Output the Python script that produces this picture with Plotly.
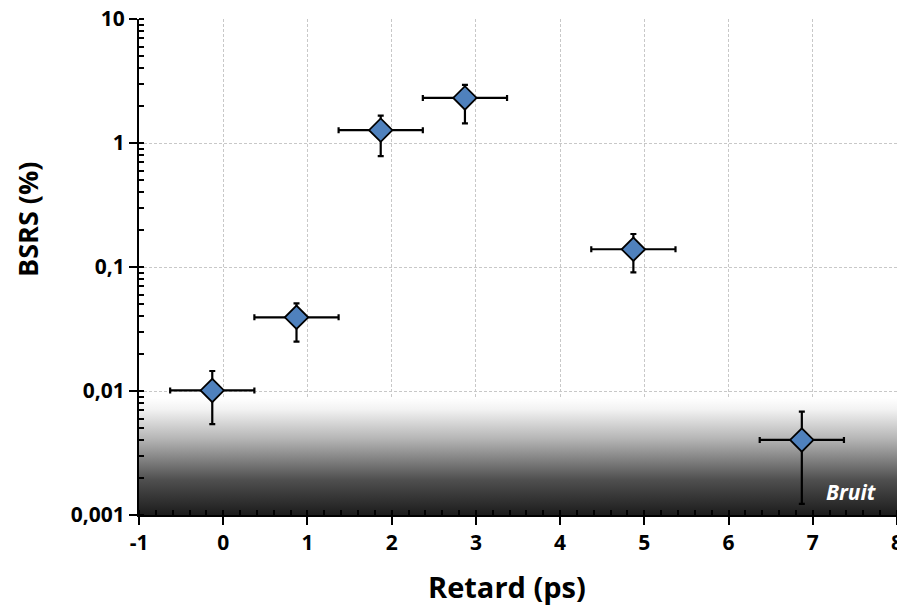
import plotly.graph_objects as go

# Data
delay_ps = [-0.13, 0.87, 1.87, 2.87, 4.87, 6.87]
delay_err = [0.5, 0.5, 0.5, 0.5, 0.5, 0.5]
bsrs = [0.0101, 0.0393, 1.27, 2.31, 0.139, 0.00403]
bsrs_err_plus = [0.0044, 0.0116, 0.39, 0.63, 0.0455, 0.0028]
bsrs_err_minus = [0.0047, 0.0143, 0.485, 0.87, 0.0485, 0.0028]

x_tickvals = [-1, 0, 1, 2, 3, 4, 5, 6, 7, 8]
x_ticktext = ["-1", "0", "1", "2", "3", "4", "5", "6", "7", "8"]
y_tickvals = [0.001, 0.01, 0.1, 1, 10]
y_ticktext = ["0,001", "0,01", "0,1", "1", "10"]

noise_level = 0.0088
x_range = [-1, 8]
y_floor = 0.001

FONT = "Open Sans"

fig = go.Figure()

# Noise band (gradient)
fig.add_trace(go.Scatter(
    x=[x_range[0], x_range[1], x_range[1], x_range[0], x_range[0]],
    y=[y_floor, y_floor, noise_level, noise_level, y_floor],
    mode="lines", line=dict(width=0), fill="toself",
    fillgradient=dict(type="vertical",
                      colorscale=[[0, "#1c1c1c"], [0.3, "#4f4f4f"], [0.65, "#b5b5b5"], [0.9, "#f2f2f2"], [1, "#ffffff"]]),
    hoverinfo="skip", showlegend=False,
))

fig.add_trace(go.Scatter(
    x=delay_ps, y=bsrs, mode="markers",
    marker=dict(symbol="diamond", size=18, color="#4f81bd", line=dict(color="black", width=1.8)),
    error_x=dict(type="data", array=delay_err, color="black", thickness=2.2, width=3),
    error_y=dict(type="data", array=bsrs_err_plus, arrayminus=bsrs_err_minus, symmetric=False,
                 color="black", thickness=2.2, width=3),
    showlegend=False,
))

fig.add_annotation(x=7.46, y=-2.815, xref="x", yref="y", text="<b><i>Bruit</i></b>",
                   showarrow=False, font=dict(family=FONT, size=21, color="white"))

# Axis titles
fig.add_annotation(x=-0.1464, y=0.595, xref="paper", yref="paper", text="<b>BSRS (%)</b>",
                   textangle=-90, showarrow=False, xanchor="center", yanchor="middle",
                   font=dict(family=FONT, size=27, color="black"))
fig.add_annotation(x=0.4855, y=-0.145, xref="paper", yref="paper", text="<b>Retard (ps)</b>",
                   showarrow=False, xanchor="center", yanchor="middle",
                   font=dict(family=FONT, size=29, color="black"))

# Page body has an 8px margin, so the figure is sized to fit the window
fig.update_layout(
    width=897, height=599,
    margin=dict(l=131, r=8, t=11, b=92),
    plot_bgcolor="white", paper_bgcolor="white",
    font=dict(family=FONT, color="black"),
    xaxis=dict(
        range=x_range, tickmode="array", tickvals=x_tickvals, ticktext=x_ticktext,
        automargin=False, ticklabeloverflow="allow",
        showline=True, linecolor="black", linewidth=2,
        ticks="outside", ticklen=8, tickwidth=2, tickcolor="black",
        minor=dict(dtick=0.2, tick0=0, ticks="inside", ticklen=5, tickwidth=1.5, tickcolor="black", showgrid=False),
        showgrid=True, gridcolor="#c8c8c8", griddash="3px,2px", gridwidth=1,
        zeroline=False,
        tickfont=dict(family=FONT, size=21, color="black", weight="bold"),
    ),
    yaxis=dict(
        type="log", range=[-3, 1],
        tickmode="array", tickvals=y_tickvals, ticktext=y_ticktext,
        automargin=False, ticklabeloverflow="allow",
        showline=True, linecolor="black", linewidth=2,
        ticks="outside", ticklen=8, tickwidth=2, tickcolor="black",
        minor=dict(dtick="D1", ticks="inside", ticklen=5, tickwidth=1.5, tickcolor="black", showgrid=False),
        showgrid=True, gridcolor="#c8c8c8", griddash="3px,2px", gridwidth=1,
        zeroline=False,
        tickfont=dict(family=FONT, size=21, color="black", weight="bold"),
    ),
)

fig.write_html("out.html")
